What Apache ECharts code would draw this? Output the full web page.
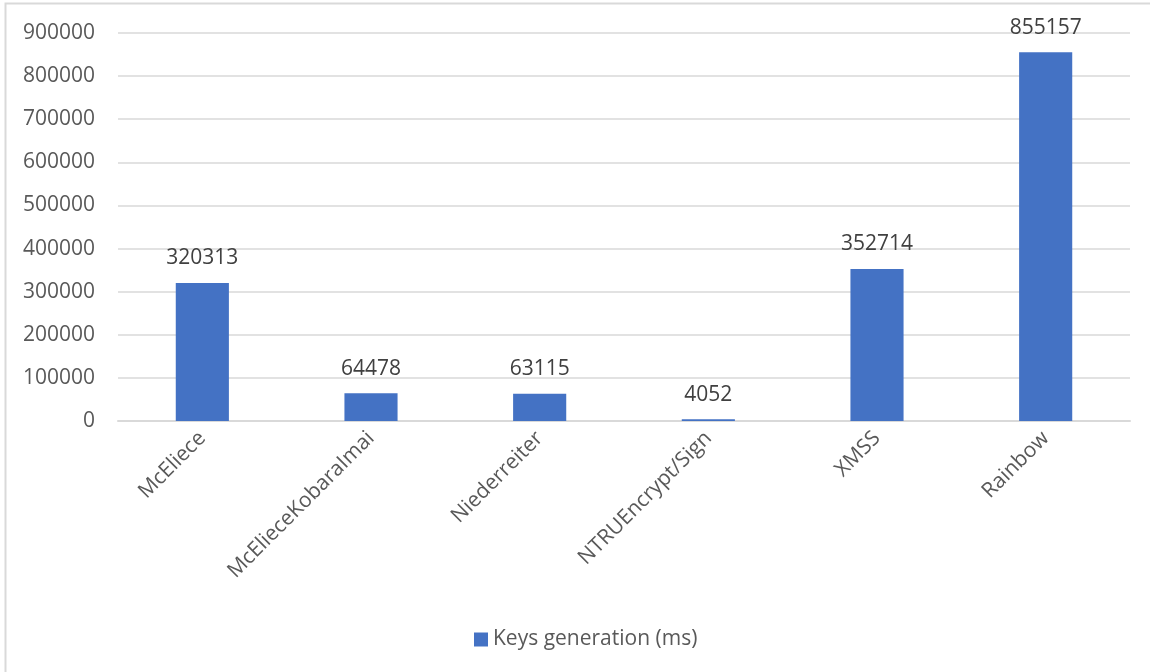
<!DOCTYPE html>
<html>
<head>
<meta charset="utf-8">
<script src="https://cdn.jsdelivr.net/npm/echarts@6/dist/echarts.min.js"></script>
<style>
  html, body { margin: 0; padding: 0; background: #ffffff; }
  #chart { width: 1150px; height: 672px; }
</style>
</head>
<body>
<div id="chart"></div>
<script>
// Key generation time per post-quantum scheme
const categories = ['McEliece', 'McElieceKobaraImai', 'Niederreiter', 'NTRUEncrypt/Sign', 'XMSS', 'Rainbow'];
const keyGenMs = [320313, 64478, 63115, 4052, 352714, 855157];
const seriesName = 'Keys generation (ms)';
const yTicks = { min: 0, max: 900000, interval: 100000 };

const FONT = '"Open Sans", "Noto Sans", sans-serif';

const chart = echarts.init(document.getElementById('chart'), null, { renderer: 'canvas' });

chart.setOption({
  animation: false,
  backgroundColor: '#ffffff',
  textStyle: { fontFamily: FONT },
  graphic: [{
    type: 'rect',
    shape: { x: 5.5, y: 3.5, width: 1200, height: 700 },
    style: { fill: 'none', stroke: '#d9d9d9', lineWidth: 2 },
    silent: true,
    z: -1
  }],
  legend: {
    data: [seriesName],
    left: 474,
    top: 629,
    padding: 0,
    itemWidth: 14,
    itemHeight: 14,
    itemGap: 6,
    icon: 'rect',
    textStyle: { fontFamily: FONT, fontSize: 21, color: '#595959' }
  },
  grid: { left: 118, right: 20, top: 33, bottom: 251, containLabel: false },
  xAxis: {
    type: 'category',
    data: categories,
    axisLine: { show: true, lineStyle: { color: '#d9d9d9', width: 2 } },
    axisTick: { show: false },
    axisLabel: {
      rotate: 45,
      margin: 14,
      interval: 0,
      fontFamily: FONT,
      fontSize: 21,
      color: '#595959'
    }
  },
  yAxis: {
    type: 'value',
    min: yTicks.min,
    max: yTicks.max,
    interval: yTicks.interval,
    axisLine: { show: false },
    axisTick: { show: false },
    splitLine: { lineStyle: { color: '#d9d9d9', width: 1.5 } },
    axisLabel: {
      margin: 23,
      fontFamily: FONT,
      fontSize: 21,
      color: '#595959',
      formatter: (v) => String(v)
    }
  },
  series: [{
    name: seriesName,
    type: 'bar',
    data: keyGenMs,
    barWidth: '31.5%',
    itemStyle: { color: '#4472C4' },
    label: {
      show: true,
      position: 'top',
      distance: 14,
      fontFamily: FONT,
      fontSize: 21,
      color: '#404040'
    }
  }]
});
</script>
</body>
</html>
